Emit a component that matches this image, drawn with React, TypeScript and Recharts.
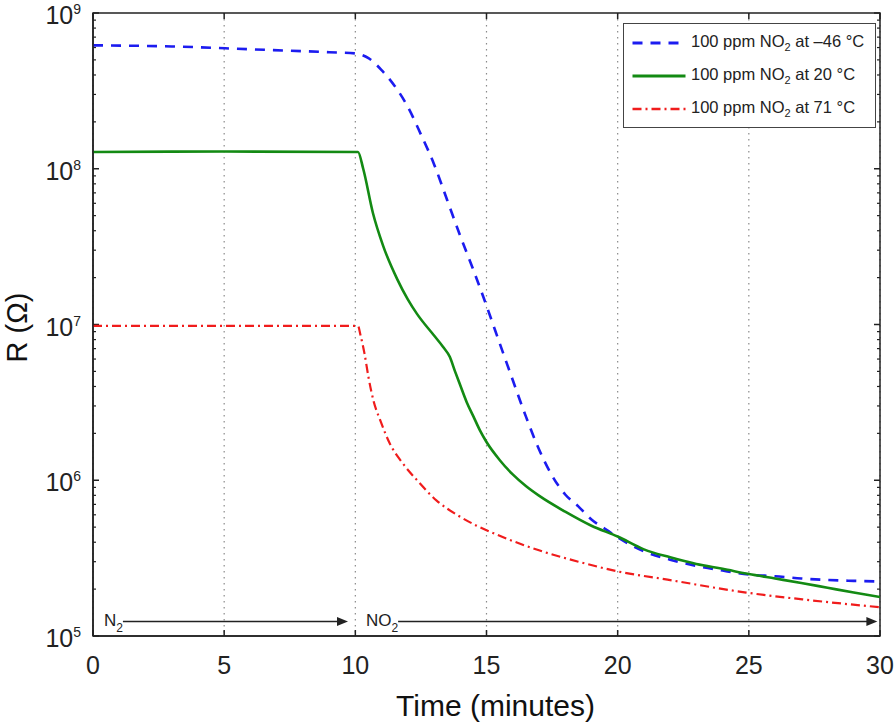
import { LineChart, Line, XAxis, YAxis, CartesianGrid, Legend, ReferenceLine, ReferenceArea } from 'recharts';

const FONT = '"Liberation Sans", Arial, Helvetica, sans-serif';
const INK = '#222';

const timeTicks = [0, 5, 10, 15, 20, 25, 30];
const decadeTicks = [1e5, 1e6, 1e7, 1e8, 1e9];
const minorTicks = decadeTicks.slice(0, -1).flatMap((d) => [2, 3, 4, 5, 6, 7, 8, 9].map((m) => m * d));

// 100 ppm NO2 at -46 °C
const coldTime = [0, 3, 6, 9, 10, 10.5, 11, 11.5, 12, 12.5, 13, 13.5, 14, 14.5, 15, 15.5, 16, 16.5, 17, 17.5, 18, 18.5, 19, 19.5, 20, 21, 22, 23, 24, 25, 26, 27, 28, 29, 30];
const coldR = [6.2e8, 6.1e8, 5.85e8, 5.6e8, 5.5e8, 5.13e8, 4.3e8, 3.4e8, 2.5e8, 1.66e8, 1.07e8, 6.3e7, 3.7e7, 2.24e7, 1.32e7, 7.6e6, 4.4e6, 2.57e6, 1.58e6, 1.07e6, 8.1e5, 6.8e5, 5.6e5, 4.9e5, 4.3e5, 3.5e5, 3.09e5, 2.82e5, 2.63e5, 2.48e5, 2.42e5, 2.34e5, 2.29e5, 2.26e5, 2.24e5];

// 100 ppm NO2 at 20 °C
const roomTime = [0, 5, 10.1, 10.3, 10.67, 11.06, 11.6, 12.0, 12.35, 13.0, 13.34, 13.6, 13.8, 14.0, 14.25, 14.5, 14.75, 15, 15.5, 16, 16.5, 17, 18, 19, 20, 21, 22, 23, 24, 25, 26, 27, 28, 29, 30];
const roomR = [1.28e8, 1.29e8, 1.28e8, 1.0e8, 5.2e7, 3.2e7, 1.95e7, 1.45e7, 1.17e7, 8.5e6, 7.2e6, 6.2e6, 5.0e6, 4.07e6, 3.16e6, 2.57e6, 2.09e6, 1.76e6, 1.35e6, 1.09e6, 9.18e5, 7.96e5, 6.28e5, 5.1e5, 4.35e5, 3.6e5, 3.2e5, 2.9e5, 2.7e5, 2.5e5, 2.34e5, 2.19e5, 2.04e5, 1.9e5, 1.78e5];

// 100 ppm NO2 at 71 °C
const hotTime = [0, 5, 10.1, 10.2, 10.35, 10.5, 10.7, 10.94, 11.3, 11.8, 12.4, 13.1, 13.9, 14.6, 15.4, 17.0, 18.5, 20, 21.9, 24.9, 27.3, 30];
const hotR = [9.8e6, 9.8e6, 9.8e6, 8.5e6, 6.5e6, 4.6e6, 3.2e6, 2.45e6, 1.74e6, 1.29e6, 9.8e5, 7.4e5, 5.96e5, 5.13e5, 4.47e5, 3.55e5, 3.0e5, 2.6e5, 2.3e5, 1.9e5, 1.7e5, 1.53e5];

const temps = ['\u201346', '20', '71'];

// gas phases shown as arrows along the bottom (time in minutes, R in ohm)
const phaseNames = ['N', 'NO'];
const phaseStart = [1.14, 11.63];
const phaseEnd = [9.72, 29.9];
const phaseLevel = 1.24e5;

const toRows = (t: number[], r: number[]) => t.map((time, i) => ({ t: time, r: r[i] }));

const series = [
  { rows: toRows(coldTime, coldR), color: '#1c1cf0', dash: '10 8', width: 2.6 },
  { rows: toRows(roomTime, roomR), color: '#138a13', dash: undefined, width: 2.6 },
  { rows: toRows(hotTime, hotR), color: '#f01c1c', dash: '9 4 2 4', width: 2.2 },
];

const PowerTick = (props: any) => {
  const { x, y, payload } = props;
  const exp = Math.round(Math.log10(payload.value));
  return (
    <text x={x - 12} y={y + 11} textAnchor="end" fill={INK} fontFamily={FONT}>
      <tspan fontSize={25}>10</tspan>
      <tspan fontSize={14} dy={-10}>{exp}</tspan>
    </text>
  );
};

// inward tick marks on both sides of the box (matlab style)
const rowTick = (len: number, w: number) => (p: any) => {
  const l = Math.min(p.x1, p.x2);
  const r = Math.max(p.x1, p.x2);
  return (
    <g stroke={INK} strokeWidth={w}>
      <line x1={l} y1={p.y1} x2={l + len} y2={p.y1} />
      <line x1={r - len} y1={p.y1} x2={r} y2={p.y1} />
    </g>
  );
};

const colTick = (len: number, w: number) => (p: any) => {
  const t = Math.min(p.y1, p.y2);
  const b = Math.max(p.y1, p.y2);
  return (
    <g stroke={INK} strokeWidth={w}>
      <line x1={p.x1} y1={t} x2={p.x1} y2={t + len} />
      <line x1={p.x1} y1={b - len} x2={p.x1} y2={b} />
    </g>
  );
};

const arrowShape = (label: string) => (props: any) => {
  const { x1, y1, x2, y2 } = props;
  return (
    <g>
      <line x1={x1} y1={y1} x2={x2 - 8} y2={y2} stroke={INK} strokeWidth={1.5} />
      <polygon points={`${x2},${y2} ${x2 - 11},${y2 - 4.5} ${x2 - 11},${y2 + 4.5}`} fill={INK} />
      <text x={x1} y={y1 + 5} textAnchor="end" fontSize={17} fill={INK} fontFamily={FONT}>
        {label}
        <tspan fontSize={12} dy={6}>2</tspan>
      </text>
    </g>
  );
};

const LegendBox = () => (
  <div
    style={{
      width: 253,
      height: 105,
      boxSizing: 'border-box',
      border: '1.5px solid #444',
      background: '#fff',
      paddingTop: 2,
      fontFamily: FONT,
      fontSize: 16.5,
      color: INK,
    }}
  >
    {series.map((s, i) => (
      <div key={i} style={{ display: 'flex', alignItems: 'center', height: 33 }}>
        <svg width={67} height={10} style={{ flex: 'none' }}>
          <line x1={8.5} x2={61.5} y1={5} y2={5} stroke={s.color} strokeWidth={s.width + 0.4} strokeDasharray={s.dash} />
        </svg>
        <span style={{ whiteSpace: 'nowrap' }}>
          100 ppm NO<sub style={{ fontSize: 11 }}>2</sub> at {temps[i]} °C
        </span>
      </div>
    ))}
  </div>
);

export default function App() {
  return (
    <div style={{ position: 'absolute', left: 0, top: 0, background: '#fff' }}>
      <LineChart width={894} height={724} margin={{ top: 13, right: 14, left: 0, bottom: 0 }} style={{ fontFamily: FONT }}>
        <CartesianGrid horizontal={false} stroke="#8a8a8a" strokeDasharray="1.5 4.5" strokeWidth={1.2} />

        <XAxis
          dataKey="t"
          type="number"
          domain={[0, 30]}
          allowDataOverflow
          ticks={timeTicks}
          height={88}
          tickLine={false}
          tickSize={0}
          tickMargin={20}
          axisLine={{ stroke: INK, strokeWidth: 1.5 }}
          tick={{ fontSize: 25, fill: INK }}
          label={{
            content: (p: any) => (
              <text
                x={p.viewBox.x + p.viewBox.width / 2 + 9}
                y={p.viewBox.y + 80}
                textAnchor="middle"
                fontSize={30}
                fill="#111"
                fontFamily={FONT}
              >
                Time (minutes)
              </text>
            ),
          }}
        />

        <YAxis
          type="number"
          scale="log"
          domain={[1e5, 1e9]}
          allowDataOverflow
          ticks={decadeTicks}
          width={93}
          tickLine={false}
          tickSize={0}
          tickMargin={0}
          axisLine={{ stroke: INK, strokeWidth: 1.5 }}
          tick={<PowerTick />}
          label={{
            content: (p: any) => {
              const cx = 17;
              const cy = p.viewBox.y + p.viewBox.height / 2 + 3;
              return (
                <text x={cx} y={cy} transform={`rotate(-90 ${cx} ${cy})`} textAnchor="middle" dominantBaseline="central" fontSize={29} fill="#111" fontFamily={FONT}>
                  R (Ω)
                </text>
              );
            },
          }}
        />

        <ReferenceArea x1={0} x2={30} y1={1e5} y2={1e9} fill="none" stroke={INK} strokeWidth={1.5} />
        {decadeTicks.map((v) => (
          <ReferenceLine key={`d${v}`} y={v} shape={rowTick(6, 1.5)} />
        ))}
        {minorTicks.map((v) => (
          <ReferenceLine key={`m${v}`} y={v} shape={rowTick(3, 1.2)} />
        ))}
        {timeTicks.map((t) => (
          <ReferenceLine key={`t${t}`} x={t} shape={colTick(6, 1.5)} />
        ))}

        {series.map((s, i) => (
          <Line
            key={i}
            data={s.rows}
            dataKey="r"
            type="monotone"
            stroke={s.color}
            strokeWidth={s.width}
            strokeDasharray={s.dash}
            dot={false}
            activeDot={false}
            isAnimationActive={false}
          />
        ))}

        {phaseNames.map((name, i) => (
          <ReferenceLine
            key={name}
            segment={[
              { x: phaseStart[i], y: phaseLevel },
              { x: phaseEnd[i], y: phaseLevel },
            ]}
            shape={arrowShape(name)}
          />
        ))}

        <Legend
          layout="vertical"
          align="center"
          verticalAlign="middle"
          content={() => <LegendBox />}
          wrapperStyle={{ left: 623, top: 23, width: 253, height: 105 }}
        />
      </LineChart>
    </div>
  );
}
